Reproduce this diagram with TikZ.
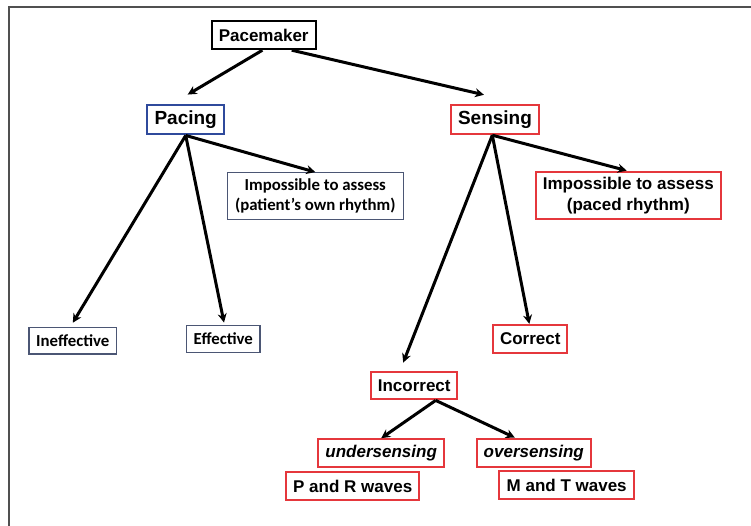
\documentclass[tikz,border=0pt]{standalone}
\usepackage{fontspec}
\setmainfont{Liberation Sans}
\newfontfamily\calibri{Carlito}
\usetikzlibrary{arrows.meta}
\definecolor{pacblue}{HTML}{2F4A9C}
\definecolor{senred}{HTML}{E5373C}
\definecolor{slatebox}{HTML}{4B5674}
\definecolor{framegray}{HTML}{505050}
\begin{document}
\begin{tikzpicture}[x=1pt,y=-1pt,
  box/.style={draw, inner sep=0pt, align=center, font=\fontsize{17}{21}\selectfont\bfseries},
  rootbox/.style={box, draw=black, line width=2.4pt},
  bluebox/.style={box, draw=pacblue, line width=2.4pt, font=\fontsize{19}{22}\selectfont\bfseries},
  redbox/.style={box, draw=senred, line width=2.2pt},
  redbig/.style={box, draw=senred, line width=2.4pt, font=\fontsize{19}{22}\selectfont\bfseries},
  thinbox/.style={box, draw=slatebox, line width=1.2pt, font=\calibri\fontsize{16.8}{20.5}\selectfont\bfseries},
  link/.style={line width=3pt, -{Stealth[length=9pt,width=9pt]}}]
\useasboundingbox (0,0) rectangle (751,526);
% frame
\draw[framegray, line width=2pt] (9,526) -- (9,7.5) -- (751,7.5);

% nodes
\node[rootbox, minimum width=104pt, minimum height=28pt] (pm) at (263.7,35) {Pacemaker};
\node[bluebox, minimum width=77pt, minimum height=29.5pt] (pacing) at (185.7,119.5) {Pacing};
\node[redbig, minimum width=88pt, minimum height=29pt] (sensing) at (495,119.5) {Sensing};
\node[thinbox, minimum width=176pt, minimum height=46.6pt] (imp1) at (315.3,196) {Impossible to assess\\(patient’s own rhythm)};
\node[redbox, minimum width=185pt, minimum height=47.6pt] (imp2) at (628.3,195.5) {Impossible to assess\\(paced rhythm)};
\node[thinbox, minimum width=87.7pt, minimum height=26.7pt] (ineff) at (72.8,340.7) {Ineffective};
\node[thinbox, minimum width=73.3pt, minimum height=26.7pt] (eff) at (223.3,339) {Effective};
\node[redbox, minimum width=74pt, minimum height=27.7pt] (correct) at (530.3,338.8) {Correct};
\node[redbox, minimum width=86.3pt, minimum height=27.6pt] (incorrect) at (414.2,385.5) {Incorrect};
\node[redbox, minimum width=125.7pt, minimum height=27.4pt, font=\fontsize{17}{21}\selectfont\bfseries\itshape] (under) at (381.2,453) {undersensing};
\node[redbox, minimum width=114.3pt, minimum height=28pt, font=\fontsize{17}{21}\selectfont\bfseries\itshape] (over) at (533.8,452.7) {oversensing};
\node[redbox, minimum width=133.3pt, minimum height=27.7pt] (pr) at (352.7,486.2) {P and R waves};
\node[redbox, minimum width=134.7pt, minimum height=28.3pt] (mt) at (566.7,485.2) {M and T waves};

% connectors
\draw[link] ([xshift=-1.3pt]pm.south) -- ([xshift=2pt,yshift=9pt]pacing.north);
\draw[link] ([xshift=28pt]pm.south) -- ([xshift=-11pt,yshift=9pt]sensing.north);
\draw[link] (pacing.south) -- ([yshift=4pt]ineff.north);
\draw[link] (pacing.south) -- ([xshift=0.7pt,yshift=2.5pt]eff.north);
\draw[link] (pacing.south) -- (imp1.north);
\draw[link] ([xshift=-2.7pt]sensing.south) -- ([xshift=-11pt,yshift=8pt]incorrect.north);
\draw[link] ([xshift=-2.7pt]sensing.south) -- ([xshift=-1pt]correct.north);
\draw[link] ([xshift=-2.7pt]sensing.south) -- ([xshift=-1.6pt]imp2.north);
\draw[link] ([xshift=21.5pt]incorrect.south) -- (under.north);
\draw[link] ([xshift=21.5pt]incorrect.south) -- ([xshift=-19pt]over.north);
\end{tikzpicture}
\end{document}
